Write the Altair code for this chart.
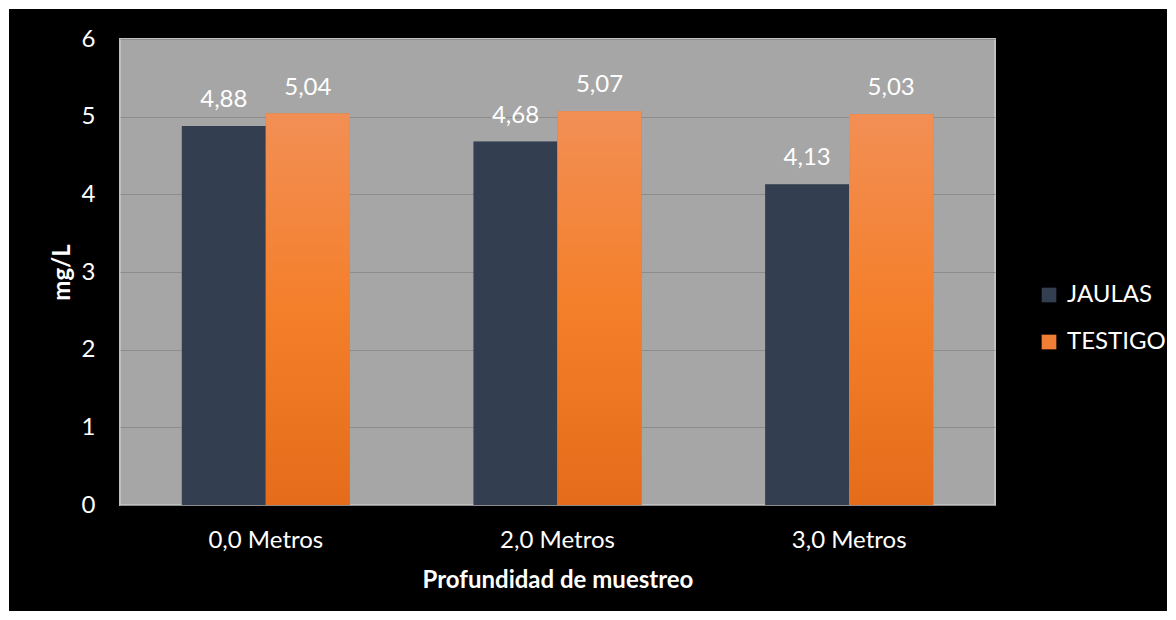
import altair as alt
import pandas as pd

categories = ["0,0 Metros", "2,0 Metros", "3,0 Metros"]
series = ["JAULAS", "TESTIGO"]
jaulas = [4.88, 4.68, 4.13]
testigo = [5.04, 5.07, 5.03]
y_ticks = [0, 1, 2, 3, 4, 5, 6]

rows = []
for c, j, t in zip(categories, jaulas, testigo):
    rows.append({"prof": c, "serie": "JAULAS", "valor": j})
    rows.append({"prof": c, "serie": "TESTIGO", "valor": t})
df = pd.DataFrame(rows)

FONT = "Lato"
FS = 24
W, H = 875, 466
PAD = {"left": 120, "top": 39, "right": 181, "bottom": 115}

x_enc = alt.X(
    "prof:N", sort=categories,
    scale=alt.Scale(paddingInner=0.424, paddingOuter=0.212),
    axis=alt.Axis(
        title="Profundidad de muestreo", labelAngle=0, labelFont=FONT,
        labelFontSize=FS, labelColor="white", labelPadding=23,
        labelBaseline="top", ticks=False, domain=False,
        titleFont=FONT, titleFontSize=24, titleFontWeight="bold",
        titleColor="white", titleY=82, titleBaseline="alphabetic",
    ),
)
xo_enc = alt.XOffset("serie:N", sort=series,
                     scale=alt.Scale(domain=series, paddingInner=0, paddingOuter=0))
y_enc = alt.Y(
    "valor:Q", scale=alt.Scale(domain=[0, 6], nice=False),
    axis=alt.Axis(
        values=y_ticks, title="mg/L", grid=True, gridColor="#8c8c8c",
        gridWidth=1, domain=False, ticks=False, labelFont=FONT,
        labelFontSize=FS, labelColor="white", labelPadding=25,
        titleFont=FONT, titleFontSize=24, titleFontWeight="bold",
        titleColor="white", titleAngle=270, titleX=-58, titleY=233,
        titleAlign="center", titleBaseline="middle",
    ),
)

base = alt.Chart(df)

shadow = base.mark_bar(color="#000000", opacity=0.18, xOffset=3).encode(
    x=x_enc, xOffset=xo_enc, y=y_enc)

bars = base.mark_bar().encode(
    x=x_enc, xOffset=xo_enc, y=y_enc,
    color=alt.Color(
        "serie:N",
        scale=alt.Scale(domain=series, range=["#333f50", "#f07e35"]),
        legend=alt.Legend(
            title=None, orient="none", legendX=917, legendY=244,
            symbolType="square", symbolSize=216, symbolStrokeWidth=0,
            labelFont=FONT, labelFontSize=FS, labelColor="white",
            labelOffset=6, rowPadding=23, padding=0,
        ),
    ),
)

gradient = alt.LinearGradient(
    gradient="linear", x1=0, x2=0, y1=0, y2=1,
    stops=[
        alt.GradientStop(color="#f28f55", offset=0),
        alt.GradientStop(color="#f47f2a", offset=0.5),
        alt.GradientStop(color="#e46c1a", offset=1),
    ],
)
testigo_bars = base.transform_filter(alt.datum.serie == "TESTIGO").mark_bar(
    color=gradient).encode(x=x_enc, xOffset=xo_enc, y=y_enc)

labels = base.transform_calculate(
    txt="replace(format(datum.valor, '.2f'), '.', ',')"
).mark_text(
    font=FONT, fontSize=FS, color="white", baseline="alphabetic", dy=-19
).encode(x=x_enc, xOffset=xo_enc, y=y_enc, text="txt:N")

frame = alt.Chart(pd.DataFrame({"k": [0]})).mark_rect(
    filled=False, stroke="white", strokeWidth=18
).encode(
    x=alt.value(-PAD["left"]), x2=alt.value(W + PAD["right"]),
    y=alt.value(-PAD["top"]), y2=alt.value(H + PAD["bottom"]),
)

chart = alt.layer(shadow, bars, testigo_bars, labels, frame).properties(
    width=W, height=H,
    autosize=alt.AutoSizeParams(type="none"),
    padding=PAD,
    background="black",
).configure_view(
    fill="#a6a6a6", stroke="#c0c0c0", strokeWidth=2,
)

chart.save("out.html", embed_options={"renderer": "svg", "actions": False})
